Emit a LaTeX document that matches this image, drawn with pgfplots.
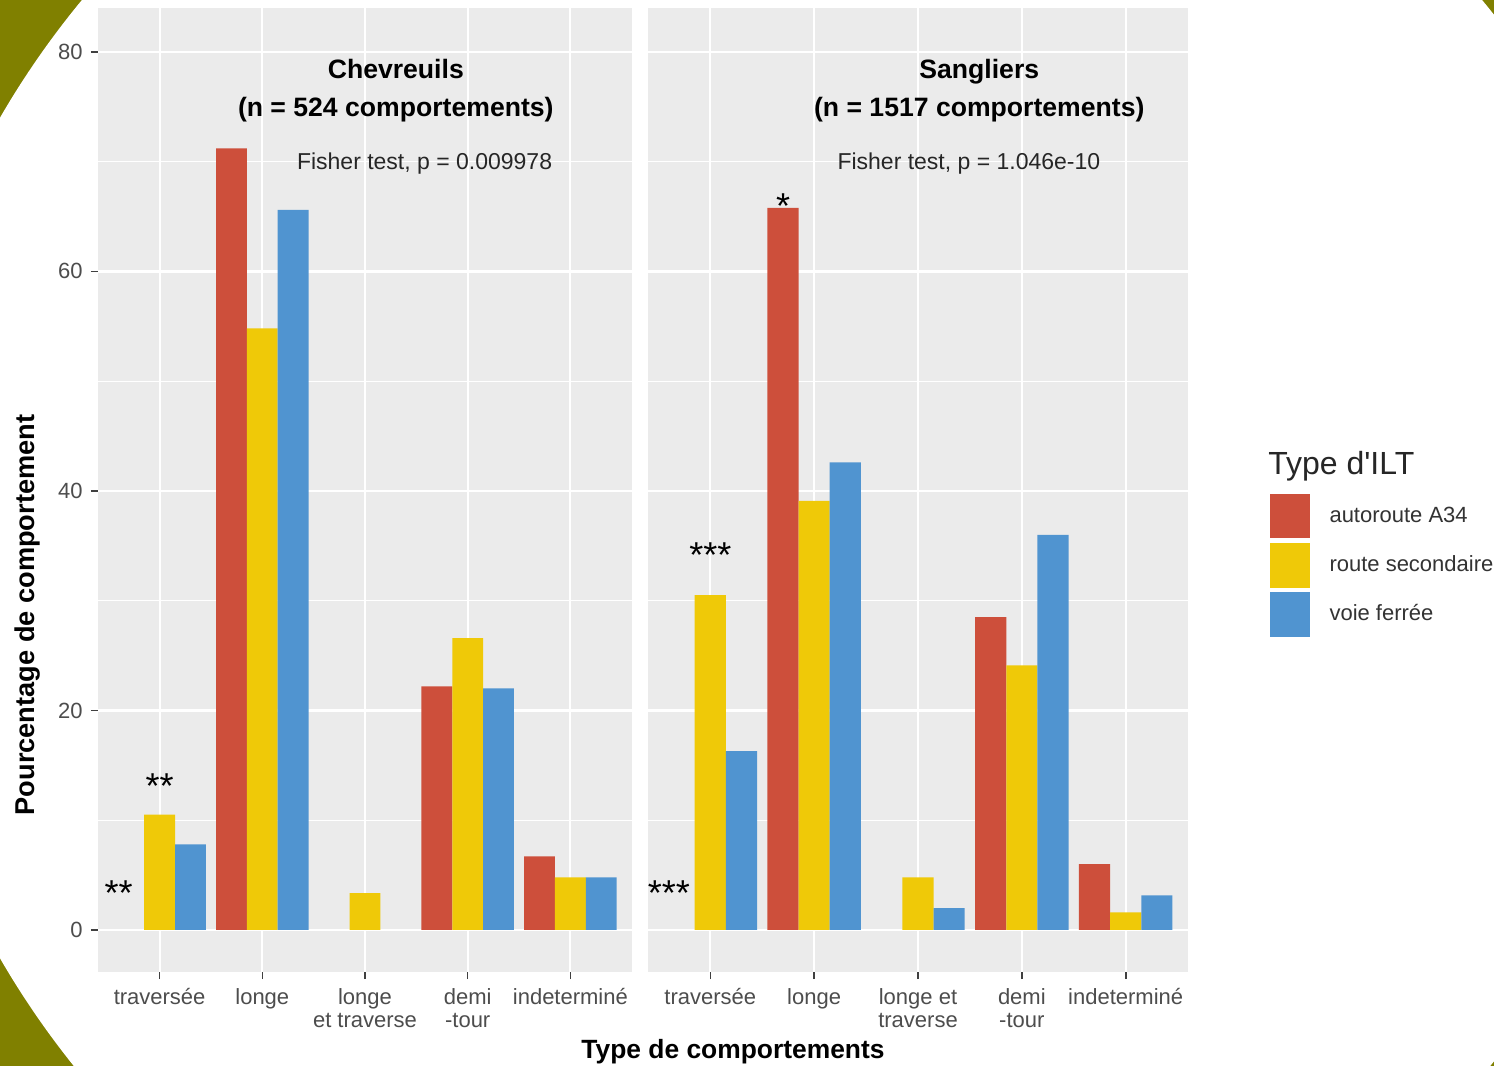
\documentclass[border=0pt]{standalone}
\usepackage{pgfplots}
\pgfplotsset{compat=1.18}
\usepackage{fontspec}
\setmainfont{Liberation Sans}
\newfontfamily\nomap{Liberation Sans}[Ligatures=ResetAll]
\definecolor{cA}{HTML}{CD4F3B}
\definecolor{cB}{HTML}{EFC908}
\definecolor{cC}{HTML}{5094D0}
\definecolor{panelc}{HTML}{EBEBEB}
\definecolor{tickc}{HTML}{4D4D4D}
\definecolor{olivec}{HTML}{808000}

\tikzset{ttl/.style={font=\bfseries\fontsize{13.3}{14}\selectfont, text depth=0.21em}}

\pgfplotsset{
  panel/.style={
    scale only axis, height=482pt,
    xmin=0.4, xmax=5.6, ymin=-3.83, ymax=84,
    axis background/.style={fill=panelc},
    axis line style={draw=none},
    xtick={1,2,3,4,5}, ytick={0,20,40,60,80}, minor ytick={10,30,50,70},
    xmajorgrids, ymajorgrids, yminorgrids,
    major grid style={white, line width=1.1pt},
    minor grid style={white, line width=0.55pt},
    tick align=outside, major tick length=3.5pt, minor tick length=0pt,
    tick style={color=black!75, line width=0.8pt},
    xtick pos=bottom, ytick pos=left,
    ticklabel style={font=\fontsize{11}{11.5}\selectfont, text=tickc},
    xticklabel style={align=center, inner sep=0pt, yshift=-4.5pt},
    yticklabel style={inner sep=0pt, xshift=-4pt},
    /pgf/number format/assume math mode=true,
    clip=false,
  },
  mybar/.style={ybar, bar width=0.3, bar shift=#1, draw=none,
    legend image code/.code={\fill[##1, draw=white, line width=0.6pt] (0pt,-11.5pt) rectangle (21pt,11.5pt);}},
}

\begin{document}
\begin{tikzpicture}
\path[use as bounding box] (0,0) rectangle (747pt,533pt);
\begin{scope}
\clip (0,0) rectangle (747pt,533pt);
\fill[olivec] (0,0) rectangle (747pt,533pt);
\fill[white] (391pt,264pt) ellipse [x radius=447.5pt, y radius=431.7pt];
\end{scope}

% Left panel: Chevreuils
\begin{axis}[panel, width=267pt, at={(49pt,47pt)}, anchor=south west,
  xticklabels={traversée, longe, {longe\\et traverse}, {demi\\-tour}, indeterminé}]
\addplot[mybar=-0.3, fill=cA] coordinates {(2,71.2) (4,22.2) (5,6.7)};
\addplot[mybar=0, fill=cB] coordinates {(1,10.5) (2,54.8) (3,3.35) (4,26.6) (5,4.8)};
\addplot[mybar=0.3, fill=cC] coordinates {(1,7.8) (2,65.6) (4,22.0) (5,4.8)};
\node[ttl] at (axis cs:3.30,78.3) {Chevreuils};
\node[ttl] at (axis cs:3.30,74.8) {(n = 524 comportements)};
\node[font=\fontsize{11.5}{12}\selectfont, text=black!85] at (axis cs:3.58,69.8) {Fisher test, p = 0.009978};
\node[anchor=north, inner sep=0pt, font=\fontsize{18}{18}\selectfont] at (axis cs:0.6,4.56) {**};
\node[anchor=north, inner sep=0pt, font=\fontsize{18}{18}\selectfont] at (axis cs:1.0,14.3) {**};
\end{axis}

% Right panel: Sangliers
\begin{axis}[panel, width=270pt, at={(324pt,47pt)}, anchor=south west,
  yticklabels={}, ytick style={draw=none},
  xticklabels={traversée, longe, {longe et\\traverse}, {demi\\-tour}, indeterminé},
  legend style={at={(axis description cs:1.148,0.498)}, anchor=north west,
    draw=none, fill=none, inner sep=0pt, row sep=1pt,
    nodes={inner sep=0pt, inner xsep=9pt, font=\fontsize{11}{11.5}\selectfont, text=black!80},
    cells={anchor=west}},
  legend cell align=left]
\addplot[mybar=-0.3, fill=cA] coordinates {(2,65.8) (4,28.5) (5,6.0)};
\addplot[mybar=0, fill=cB] coordinates {(1,30.5) (2,39.1) (3,4.8) (4,24.1) (5,1.6)};
\addplot[mybar=0.3, fill=cC] coordinates {(1,16.3) (2,42.6) (3,2.0) (4,36.0) (5,3.15)};
\legend{autoroute A34, route secondaire, voie ferrée}
\node[ttl] at (axis cs:3.59,78.3) {Sangliers};
\node[ttl] at (axis cs:3.59,74.8) {(n = 1517 comportements)};
\node[font=\fontsize{11.5}{12}\selectfont, text=black!85] at (axis cs:3.49,69.8) {Fisher test, p = 1.046e-10};
\node[anchor=north, inner sep=0pt, font=\fontsize{18}{18}\selectfont] at (axis cs:0.6,4.56) {***};
\node[anchor=north, inner sep=0pt, font=\fontsize{18}{18}\selectfont] at (axis cs:1.0,35.35) {***};
\node[anchor=north, inner sep=0pt, font=\fontsize{18}{18}\selectfont] at (axis cs:1.7,67.15) {*};
\node[anchor=west, inner sep=0pt, font=\nomap\fontsize{16}{17}\selectfont, text=black!85] at (axis description cs:1.148,0.525) {Type d'ILT};
\end{axis}

\node[rotate=90, font=\bfseries\fontsize{13.6}{14}\selectfont] at (14pt,225.5pt) {Pourcentage de comportement};
\node[font=\bfseries\fontsize{13.2}{14}\selectfont] at (366.5pt,7pt) {Type de comportements};
\end{tikzpicture}
\end{document}
